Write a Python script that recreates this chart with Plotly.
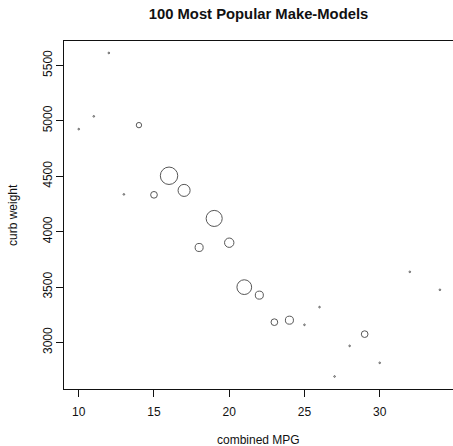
import plotly.graph_objects as go

# Data
mpg = [10, 11, 12, 13, 14, 15, 16, 17, 18, 19, 20, 21, 22, 23, 24, 25, 26, 27, 28, 29, 30, 32, 34]
curb_weight = [4925, 5040, 5612, 4336, 4961, 4332, 4504, 4372, 3857, 4119, 3900, 3499, 3427, 3183, 3201, 3159, 3319, 2693, 2969, 3075, 2816, 3637, 3475]
model_count = [1, 1, 1, 1, 4, 5, 13, 9, 6, 12, 7, 11, 6, 5, 6, 1, 1, 1, 1, 5, 1, 1, 1]

x_ticks = [10, 15, 20, 25, 30]
y_ticks = [3000, 3500, 4000, 4500, 5000, 5500]

FONT = "Liberation Sans, Arial, sans-serif"
px_per_count = 1.34  # marker diameter per model (radius proportional to count)

W, H = 453, 446
L, R, T, B = 64, 0, 41, 57

fig = go.Figure(
    go.Scatter(
        x=mpg,
        y=curb_weight,
        mode="markers",
        marker=dict(
            size=[max(c * px_per_count, 1.6) for c in model_count],
            color="rgba(0,0,0,0)",
            line=dict(color="#111111", width=1),
        ),
        hoverinfo="x+y",
        showlegend=False,
    )
)

fig.update_layout(
    width=W,
    height=H,
    margin=dict(l=L, r=R, t=T, b=B, autoexpand=False),
    paper_bgcolor="white",
    plot_bgcolor="white",
    font=dict(family=FONT, size=12, color="#111111"),
    title=dict(
        text="<b>100 Most Popular Make-Models</b>",
        x=0.5,
        xanchor="center",
        xref="paper",
        y=1 - 14 / H,
        yanchor="middle",
        yref="container",
        font=dict(family=FONT, size=14.8, color="#111111"),
    ),
    annotations=[
        dict(
            text="combined MPG",
            xref="paper", yref="paper",
            x=0.5, y=-(440 - (H - B)) / (H - T - B),
            xanchor="center", yanchor="middle",
            showarrow=False,
            font=dict(size=12),
        ),
        dict(
            text="curb weight",
            xref="paper", yref="paper",
            x=-(L - 13) / (W - L - R), y=0.5,
            xanchor="center", yanchor="middle",
            textangle=-90,
            showarrow=False,
            font=dict(size=12),
        ),
    ],
)

fig.update_xaxes(
    range=[9.02, 34.87],
    tickvals=x_ticks,
    ticks="outside",
    ticklen=7,
    tickcolor="#111111",
    ticklabelstandoff=5,
    showline=True,
    linecolor="#111111",
    linewidth=1,
    mirror=True,
    showgrid=False,
    zeroline=False,
    automargin=False,
    tickfont=dict(size=12),
)

fig.update_yaxes(
    range=[2580, 5720],
    tickvals=y_ticks,
    ticks="outside",
    ticklen=7,
    tickcolor="#111111",
    tickangle=-90,
    ticklabelstandoff=-1,
    showline=True,
    linecolor="#111111",
    linewidth=1,
    showgrid=False,
    zeroline=False,
    automargin=False,
    tickfont=dict(size=12),
)

fig.write_html(
    "out.html",
    config={"displayModeBar": False},
    post_script="document.body.style.margin='0';document.body.style.overflow='hidden';",
)
